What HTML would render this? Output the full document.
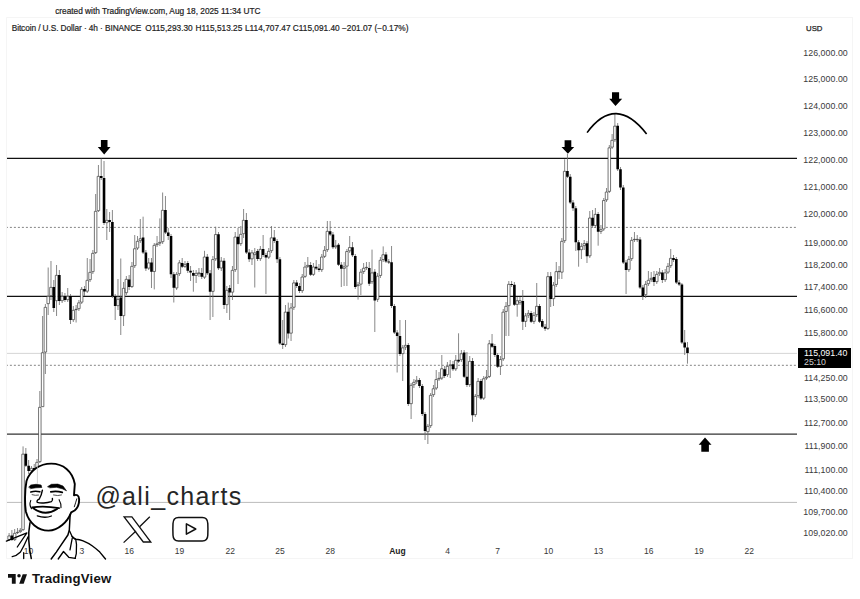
<!DOCTYPE html>
<html><head><meta charset="utf-8">
<style>
html,body{margin:0;padding:0;background:#fff;}
body{width:860px;height:599px;overflow:hidden;position:relative;font-family:"Liberation Sans",Arial,sans-serif;}
.abs{position:absolute;white-space:nowrap;}
#cw{left:0;width:315.7px;text-align:center;top:5.9px;font-size:8.31px;color:#222;-webkit-text-stroke:0.2px #222;}
.lg{position:absolute;top:23.4px;font-size:8.3px;color:#1e1e1e;-webkit-text-stroke:0.2px #1e1e1e;white-space:nowrap;}
#usd{left:806px;top:23.6px;font-size:7.8px;color:#222;-webkit-text-stroke:0.25px #222;}
.pl{position:absolute;left:790px;width:57.8px;text-align:right;font-size:8.8px;color:#3a3a3a;white-space:nowrap;letter-spacing:0.05px;}
.tl{position:absolute;top:546.2px;width:40px;text-align:center;font-size:8.5px;color:#383838;}
.tl.b{font-weight:bold;color:#222;}
#tag{position:absolute;left:798px;top:348.3px;width:53px;height:19.7px;background:#000;}
#tag div{position:absolute;left:6px;font-size:8.8px;color:#fff;white-space:nowrap;}
#ali{left:95.4px;top:482px;font-size:25px;color:#262626;letter-spacing:1.35px;}
#tvt{left:32px;top:570.5px;font-size:13.2px;font-weight:bold;color:#131313;letter-spacing:0.17px;}
svg{position:absolute;left:0;top:0;}
</style></head>
<body>
<div class="abs" id="cw">created with TradingView.com, Aug 18, 2025 11:34 UTC</div>

<div class="tl" style="left:8.6px">10</div>
<div class="tl" style="left:59.5px">13</div>
<div class="tl" style="left:109.3px">16</div>
<div class="tl" style="left:159.5px">19</div>
<div class="tl" style="left:210.2px">22</div>
<div class="tl" style="left:260.0px">25</div>
<div class="tl" style="left:310.2px">28</div>
<div class="tl b" style="left:377.4px">Aug</div>
<div class="tl" style="left:427.5px">4</div>
<div class="tl" style="left:477.5px">7</div>
<div class="tl" style="left:528.6px">10</div>
<div class="tl" style="left:578.6px">13</div>
<div class="tl" style="left:628.8px">16</div>
<div class="tl" style="left:679.0px">19</div>
<div class="tl" style="left:729.2px">22</div>
<svg width="860" height="599" viewBox="0 0 860 599">
<!-- faint pane borders -->
<path d="M6.5 17.5V558.5M6.5 17.5H853M852.5 17.5V558.5M6.5 558.5H853" stroke="#f5f5f5" stroke-width="1" fill="none"/>
<!-- horizontal lines -->
<path d="M7 158.4H797M7 296.3H797" stroke="#111" stroke-width="1.2"/>
<path d="M7 434.2H797" stroke="#333" stroke-width="1.3"/>
<path d="M7 227.4H797M7 365.3H797" stroke="#777" stroke-width="0.9" stroke-dasharray="2 2" stroke-dashoffset="1.1"/>
<path d="M7 353.4H797" stroke="#ccc" stroke-width="0.8"/>
<path d="M7 502.4H797" stroke="#bbb" stroke-width="1"/>
<path d="M9.1 533V541M11.89 530V541M14.68 529V541M17.48 528V534M20.27 528V533M23.06 446.4V531M25.85 448V467M28.64 460V474M31.43 466V473M34.23 464V474M37.02 459V473M39.81 391V463M42.6 316V407M45.39 304V374M48.18 267.5V315M50.98 261V300M53.77 280V312M56.56 265V316M59.35 270V305M62.14 292V303M64.93 293V302M67.73 288V302M70.52 294V324M73.31 306V322M76.1 305V322.5M78.89 300V311M81.68 287V304M84.48 286V296M87.27 258V293M90.06 259V282M92.85 250V274M95.64 194V254M98.43 165V212M101.23 158.5V180M104.02 161V225M106.81 209V240M109.6 212V232M112.39 210V298M115.18 294V320M117.98 279V310M120.77 258.5V335M123.56 282V326M126.35 276V295M129.14 275V290M131.93 262V288M134.73 235V268M137.52 236V250M140.31 219V243M143.1 216.7V254M145.89 250V271M148.69 258V270M151.48 258V288M154.27 243V289.4M157.06 236V247M159.85 218.4V246M162.64 192.5V244M165.44 196V234M168.23 228V240M171.02 234V278M173.81 272V302.5M176.6 272V290M179.39 260V276M182.19 258V268M184.98 261V268M187.77 261V273M190.56 266V281M193.35 270V291.7M196.14 270V283M198.94 268V277M201.73 268V279M204.52 250.8V279M207.31 254V275M210.1 270V320M212.89 256V317M215.69 226.7V261M218.48 232V270M221.27 257V271M224.06 258V309M226.85 286V313M229.64 285V320M232.44 266V300M235.23 232V272M238.02 228V284M240.81 226V246M243.6 209V238M246.39 213V254M249.19 249V262M251.98 250V265M254.77 248V287.5M257.56 249V261M260.35 246V261M263.14 235V257M265.94 253V294M268.73 248V259M271.52 226V253M274.31 230V243M277.1 239V263M279.89 257V345M282.69 320V349M285.48 305V347M288.27 302.6V338.5M291.06 303V341M293.85 280V310M296.65 280V288M299.44 283V293M302.23 274V293M305.02 262V278M307.81 257V268M310.6 262V276M313.4 263V276M316.19 260V270M318.98 264V272M321.77 254V272M324.56 246V258M327.35 221V252M330.15 221V236M332.94 232V249M335.73 240V249M338.52 243V266M341.31 262V287M344.1 262V286M346.9 249V286M349.69 236V253M352.48 242V257M355.27 254V289M358.06 282V299.6M360.85 269V295M363.65 263V274M366.44 262V270M369.23 262V286M372.02 249.6V284M374.81 269V332M377.6 273V302M380.4 257V278M383.19 246.4V262M385.98 252V263M388.77 259V264M391.56 246V308M394.35 304V334M397.15 330V372.5M399.94 320V356M402.73 345V381M405.52 320V350M408.31 343V406M411.1 383V419M413.9 379V388M416.69 376V384M419.48 378V388M422.27 384V416M425.06 412V440M427.86 424V444M430.65 393V428M433.44 385V397M436.23 370V390M439.02 372V381M441.81 355V380M444.61 366V378M447.4 362V377M450.19 360V378M452.98 361V371M455.77 355V371M458.56 333.3V363M461.36 350V362M464.15 350V378M466.94 352V387M469.73 356V387M472.52 358V421.8M475.31 394V417M478.11 378V398M480.9 379V400M483.69 376V400M486.48 370V380M489.27 340V378M492.06 334V348M494.86 344V357M497.65 353V368M500.44 356V375M503.23 309V361M506.02 302V336M508.81 281V336M511.61 281V287M514.4 282V306M517.19 297V316.7M519.98 297V305M522.77 290V330M525.56 313V327M528.36 310V318M531.15 311V323M533.94 312V324M536.73 283V317M539.52 304V323M542.31 319V328M545.11 324V331M547.9 272V330M550.69 272V307M553.48 282V306M556.27 262V287M559.06 266V279M561.86 238V279M564.65 159.3V243M567.44 154V178M570.23 174V204M573.02 200V211M575.82 206V251M578.61 240V266.7M581.4 243V259M584.19 240V250M586.98 241V263M589.77 211V258M592.57 210V228M595.36 208V228M598.15 212V245.7M600.94 225V234M603.73 198V231M606.52 188V202M609.32 145V193M612.11 134V149M614.9 113.3V142M617.69 123V171M620.48 167V190M623.27 185V264M626.07 260V294M628.86 256V272M631.65 237V261M634.44 232V242M637.23 235V242M640.02 237V289M642.82 285V300M645.61 281V298M648.4 271V286M651.19 272V282M653.98 271V286M656.77 271V284M659.57 268V276M662.36 270V283M665.15 269V282M667.94 263V274M670.73 249V268M673.52 255V262M676.32 257V284M679.11 280V286M681.9 283V344M684.69 330V355M687.48 342V363.7" stroke="#6a6a6a" stroke-width="0.8" fill="none"/>
<path d="M7.85 535.95h2.5v3.7h-2.5zM13.43 533.35h2.5v6.3h-2.5zM16.23 532.35h2.5v0.3h-2.5zM19.02 530.35h2.5v1.3h-2.5zM21.81 454.15h2.5v75.5h-2.5zM30.18 468.35h2.5v2.3h-2.5zM35.77 462.35h2.5v9.3h-2.5zM38.56 407.35h2.5v54.3h-2.5zM41.35 352.75h2.5v53.9h-2.5zM44.14 307.35h2.5v44.7h-2.5zM46.93 296.35h2.5v7.3h-2.5zM49.73 287.35h2.5v8.3h-2.5zM55.31 275.35h2.5v25.3h-2.5zM60.89 296.35h2.5v4.3h-2.5zM66.48 296.35h2.5v3.3h-2.5zM72.06 310.35h2.5v9.3h-2.5zM74.85 309.35h2.5v0.3h-2.5zM77.64 302.85h2.5v5.8h-2.5zM80.43 289.35h2.5v12.8h-2.5zM86.02 280.35h2.5v10.8h-2.5zM88.81 272.35h2.5v7.3h-2.5zM91.6 253.35h2.5v18.3h-2.5zM94.39 211.35h2.5v41.3h-2.5zM97.18 176.35h2.5v34.3h-2.5zM105.56 220.35h2.5v2.3h-2.5zM116.73 299.35h2.5v6.3h-2.5zM122.31 288.35h2.5v27.3h-2.5zM125.1 279.35h2.5v13.3h-2.5zM130.68 266.35h2.5v20.2h-2.5zM133.48 248.75h2.5v16.9h-2.5zM136.27 241.35h2.5v6.7h-2.5zM139.06 238.75h2.5v1.9h-2.5zM147.44 262.95h2.5v5.2h-2.5zM153.02 245.35h2.5v26.1h-2.5zM155.81 243.85h2.5v0.8h-2.5zM158.6 242.35h2.5v0.8h-2.5zM161.39 210.35h2.5v31.3h-2.5zM175.35 274.35h2.5v13.6h-2.5zM178.14 262.85h2.5v10.8h-2.5zM183.73 264.35h2.5v2h-2.5zM194.89 273.35h2.5v2.1h-2.5zM197.69 272.85h2.5v0.8h-2.5zM203.27 257.05h2.5v20.1h-2.5zM211.64 259.55h2.5v31.8h-2.5zM214.44 234.55h2.5v24.3h-2.5zM220.02 261.15h2.5v6.8h-2.5zM225.6 290.35h2.5v14.3h-2.5zM231.19 270.35h2.5v21.8h-2.5zM233.98 237.05h2.5v32.6h-2.5zM239.56 234.35h2.5v9.3h-2.5zM242.35 220.35h2.5v13.3h-2.5zM250.73 252.85h2.5v6h-2.5zM253.52 252.85h2.5v1.8h-2.5zM259.1 249.35h2.5v9.3h-2.5zM267.48 251.35h2.5v5.8h-2.5zM270.27 237.85h2.5v12.8h-2.5zM284.23 312.15h2.5v32.5h-2.5zM289.81 307.95h2.5v25.2h-2.5zM292.6 282.95h2.5v24.3h-2.5zM300.98 277.05h2.5v13.6h-2.5zM303.77 267.05h2.5v9.3h-2.5zM306.56 265.35h2.5v1h-2.5zM312.15 267.05h2.5v7.3h-2.5zM320.52 257.05h2.5v12.6h-2.5zM323.31 250.35h2.5v6h-2.5zM326.1 231.35h2.5v18.3h-2.5zM334.48 245.85h2.5v1h-2.5zM342.85 266.85h2.5v1.5h-2.5zM345.65 251.55h2.5v14.6h-2.5zM348.44 247.55h2.5v3.3h-2.5zM356.81 284.85h2.5v0.8h-2.5zM359.6 272.15h2.5v12h-2.5zM362.4 268.25h2.5v3.2h-2.5zM365.19 267.35h2.5v0.3h-2.5zM370.77 272.95h2.5v8.7h-2.5zM376.35 276.15h2.5v23.1h-2.5zM379.15 260.25h2.5v15.2h-2.5zM381.94 254.75h2.5v4.8h-2.5zM401.48 347.85h2.5v5.8h-2.5zM404.27 345.35h2.5v1.8h-2.5zM409.85 385.35h2.5v18.3h-2.5zM412.65 382.35h2.5v2.3h-2.5zM415.44 380.35h2.5v1.3h-2.5zM426.61 426.35h2.5v5.3h-2.5zM429.4 395.35h2.5v30.3h-2.5zM432.19 388.75h2.5v5.9h-2.5zM434.98 379.55h2.5v8.5h-2.5zM437.77 378.35h2.5v0.6h-2.5zM440.56 368.75h2.5v9.3h-2.5zM446.15 366.35h2.5v8.3h-2.5zM448.94 364.85h2.5v0.8h-2.5zM454.52 360.35h2.5v8.5h-2.5zM460.11 353.75h2.5v5.9h-2.5zM468.48 361.35h2.5v23.3h-2.5zM474.06 396.35h2.5v18.3h-2.5zM476.86 381.35h2.5v14.3h-2.5zM482.44 378.75h2.5v19.4h-2.5zM485.23 377.15h2.5v0.9h-2.5zM488.02 343.75h2.5v32.7h-2.5zM499.19 359.55h2.5v6.8h-2.5zM501.98 312.15h2.5v46.7h-2.5zM504.77 306.35h2.5v5.1h-2.5zM507.56 284.35h2.5v21.3h-2.5zM515.94 300.75h2.5v3.6h-2.5zM518.73 300.75h2.5v1.9h-2.5zM524.31 315.85h2.5v5.5h-2.5zM527.11 313.35h2.5v1.8h-2.5zM532.69 315.35h2.5v6h-2.5zM535.48 306.35h2.5v8.3h-2.5zM546.65 276.65h2.5v51.8h-2.5zM552.23 285.15h2.5v13.5h-2.5zM555.02 271.65h2.5v12.8h-2.5zM557.81 271.35h2.5v0.3h-2.5zM560.61 241.35h2.5v30.8h-2.5zM563.4 171.35h2.5v69.3h-2.5zM580.15 246.35h2.5v3.3h-2.5zM582.94 243.65h2.5v2h-2.5zM588.52 218.05h2.5v37.8h-2.5zM594.11 214.35h2.5v11.1h-2.5zM599.69 229.65h2.5v1.7h-2.5zM602.48 200.55h2.5v28.4h-2.5zM605.27 192.05h2.5v7.8h-2.5zM608.07 147.85h2.5v43.5h-2.5zM610.86 140.35h2.5v6.8h-2.5zM613.65 126.15h2.5v13.5h-2.5zM627.61 259.35h2.5v10.3h-2.5zM630.4 240.35h2.5v18.3h-2.5zM633.19 239.35h2.5v0.3h-2.5zM635.98 239.35h2.5v0.3h-2.5zM644.36 284.35h2.5v10.3h-2.5zM647.15 280.35h2.5v3.3h-2.5zM649.94 278.35h2.5v1.3h-2.5zM655.52 274.35h2.5v7.3h-2.5zM658.32 272.35h2.5v1.3h-2.5zM663.9 272.85h2.5v6.8h-2.5zM666.69 266.35h2.5v5.8h-2.5zM669.48 258.35h2.5v7.3h-2.5z" stroke="#3a3a3a" stroke-width="0.7" fill="#fff"/>
<path d="M10.59 535.6h2.6v4.4h-2.6zM24.55 453.8h2.6v11.9h-2.6zM27.34 465.7h2.6v5.3h-2.6zM32.93 468h2.6v4h-2.6zM52.47 287h2.6v21h-2.6zM58.05 275h2.6v26h-2.6zM63.63 296h2.6v4h-2.6zM69.22 296h2.6v24h-2.6zM83.18 289h2.6v2.5h-2.6zM99.93 176h2.6v2h-2.6zM102.72 178h2.6v45h-2.6zM108.3 220h2.6v2h-2.6zM111.09 222h2.6v74h-2.6zM113.88 296h2.6v10h-2.6zM119.47 297.5h2.6v18.5h-2.6zM127.84 279.4h2.6v7.5h-2.6zM141.8 237.6h2.6v15h-2.6zM144.59 252.6h2.6v15.9h-2.6zM150.18 262.6h2.6v9.2h-2.6zM164.14 210h2.6v22.6h-2.6zM166.93 232.6h2.6v3.4h-2.6zM169.72 236h2.6v38.3h-2.6zM172.51 274.3h2.6v13.4h-2.6zM180.89 263h2.6v3.7h-2.6zM186.47 263h2.6v7.8h-2.6zM189.26 270.8h2.6v1.7h-2.6zM192.05 273h2.6v2.8h-2.6zM200.43 273h2.6v3.7h-2.6zM206.01 256.7h2.6v16.6h-2.6zM208.8 273.3h2.6v18.4h-2.6zM217.18 234.2h2.6v34.1h-2.6zM222.76 260.8h2.6v44.2h-2.6zM228.34 288h2.6v4.5h-2.6zM236.72 236.7h2.6v7.5h-2.6zM245.09 220h2.6v32.5h-2.6zM247.89 252.5h2.6v6.7h-2.6zM256.26 251h2.6v8h-2.6zM261.84 249h2.6v6h-2.6zM264.64 255h2.6v2.5h-2.6zM273.01 237.5h2.6v3.5h-2.6zM275.8 241h2.6v18.2h-2.6zM278.59 259.2h2.6v84.4h-2.6zM281.39 343.6h2.6v1.4h-2.6zM286.97 311.8h2.6v21.7h-2.6zM295.35 282.6h2.6v3.4h-2.6zM298.14 286h2.6v5h-2.6zM309.3 265h2.6v9.7h-2.6zM314.89 266.7h2.6v1.7h-2.6zM317.68 268.4h2.6v1.6h-2.6zM328.85 231.3h2.6v3.2h-2.6zM331.64 234.5h2.6v12.7h-2.6zM337.22 244.8h2.6v19.9h-2.6zM340.01 264.7h2.6v4h-2.6zM351.18 247.2h2.6v8h-2.6zM353.97 256h2.6v31h-2.6zM367.93 267.9h2.6v15.8h-2.6zM373.51 271.8h2.6v28.6h-2.6zM384.68 254.4h2.6v7.1h-2.6zM387.47 261.5h2.6v1h-2.6zM390.26 262.3h2.6v43.7h-2.6zM393.05 306h2.6v26.5h-2.6zM395.85 332.5h2.6v3.5h-2.6zM398.64 336h2.6v18h-2.6zM407.01 345h2.6v59h-2.6zM418.18 380h2.6v6h-2.6zM420.97 386h2.6v28h-2.6zM423.76 414h2.6v17h-2.6zM443.31 369.2h2.6v6.7h-2.6zM451.68 364.2h2.6v5h-2.6zM457.26 359.7h2.6v1.7h-2.6zM462.85 352.5h2.6v24.3h-2.6zM465.64 376.8h2.6v8.3h-2.6zM471.22 361h2.6v54.2h-2.6zM479.6 381h2.6v17.5h-2.6zM490.76 343.4h2.6v3.3h-2.6zM493.56 346h2.6v9h-2.6zM496.35 355h2.6v11.7h-2.6zM510.31 284h2.6v1h-2.6zM513.1 284.8h2.6v19.9h-2.6zM521.47 301h2.6v20.7h-2.6zM529.85 313h2.6v8.7h-2.6zM538.22 306h2.6v15.7h-2.6zM541.01 321h2.6v5.7h-2.6zM543.81 326.7h2.6v2.1h-2.6zM549.39 276.3h2.6v22.7h-2.6zM566.14 171h2.6v5.8h-2.6zM568.93 176.8h2.6v25.7h-2.6zM571.72 202.5h2.6v5.8h-2.6zM574.52 208.3h2.6v33.9h-2.6zM577.31 242.2h2.6v8.1h-2.6zM585.68 243.3h2.6v12.9h-2.6zM591.27 217.7h2.6v8.1h-2.6zM596.85 214h2.6v17.7h-2.6zM616.39 125.8h2.6v43.4h-2.6zM619.18 169.2h2.6v18.3h-2.6zM621.97 187.5h2.6v75h-2.6zM624.77 262.5h2.6v7.5h-2.6zM638.72 239.5h2.6v48h-2.6zM641.52 287.5h2.6v8.5h-2.6zM652.68 277h2.6v5h-2.6zM661.06 272.5h2.6v7.5h-2.6zM672.22 258h2.6v2h-2.6zM675.02 259h2.6v23.5h-2.6zM677.81 282.5h2.6v2h-2.6zM680.6 284.5h2.6v58h-2.6zM683.39 342.5h2.6v5h-2.6zM686.18 347.5h2.6v5.5h-2.6z" fill="#000"/>
<!-- arrows -->
<path d="M100.9 140H107.5V147.1H110.5L104.2 154.4L97.8 147.1H100.9Z" fill="#000"/>
<path d="M564.6 140.3H571.3V146.9H574.2L567.9 153.8L561.5 146.9H564.6Z" fill="#000"/>
<path d="M612 92.3H619.1V98.8H622.2L615.5 106.1L609.2 98.8H612Z" fill="#000"/>
<path d="M705 437.6L711.5 444.8H708.9V451.7H701.3V444.8H698.7Z" fill="#000"/>
<path d="M587.1 132.6Q615.5 94 646.6 134" stroke="#000" stroke-width="1.6" fill="none"/>

<!-- face -->
<g stroke="#000" fill="none" stroke-linecap="round" stroke-linejoin="round">
<path d="M26.5 481C30 470 40 463.6 51.2 463.6C63 463.6 72.5 471 74.8 484L74 495.3C76.5 494.3 78.8 495 79.1 499C79.3 503.5 77.5 508 74.6 510.5L71.2 512.3C67.5 522 58.5 530.4 48.5 530.6C38 530.6 29 523 26 512C24.6 505 24.7 490 26.5 481Z" fill="#fff" stroke-width="1.9"/>
<path d="M37.4 466.2V483.5" stroke="#bbb" stroke-width="0.7"/>
<path d="M28.9 486.9L30.8 485L36 484.3L41.1 485L41.8 487.5L36 487.8L30.8 488.6Z" fill="#000" stroke-width="0.6"/>
<path d="M47.8 486.5L51.4 484.3L57.8 484.1L63 486L66.5 490.8L62.3 488.8L56.5 487.3L50.1 487.8Z" fill="#000" stroke-width="0.6"/>
<path d="M30.8 492Q35.3 490.6 39.8 491.8M50.8 491.8Q56.5 490.6 62.3 492.4" stroke-width="1.7"/>
<path d="M32.1 494.7Q35.3 495.8 38.5 495.1M53.5 495Q58 496.2 61.5 495" stroke-width="1" stroke="#555"/>
<path d="M42.4 490.1Q41.5 495.5 39.2 499.1Q36.2 500.5 37.3 502.3Q40 503.3 43.7 503Q48 502.8 51.4 501.7Q53 500.5 52.4 498.5" stroke-width="1.4"/>
<path d="M30.8 500.4Q28.9 505 31.5 508.7M59.1 499.7Q61.5 504 61 507.8" stroke-width="1.1"/>
<path d="M32.1 507.4Q44 505.4 59.1 508.1" stroke-width="1.8"/>
<path d="M33.4 508.3Q45 517 57 509" stroke-width="2"/>
<path d="M37.3 515.8Q45 518.6 51.4 516" stroke-width="1.3"/>
<path d="M76.8 498.8Q75.6 503 74.3 506.8" stroke-width="0.9"/>
<path d="M30 522.7Q28.3 532 28.8 540.6Q29.3 550 31.3 558.5" stroke-width="1.5"/>
<path d="M70.1 515L69.3 530.3Q68.5 533 67.9 535L60 546.6L56.3 552.1L51.2 559" stroke-width="1.5"/>
<path d="M72.1 536.4L75.8 539.7L76.5 544.3L76.3 553.6L75.1 558L70 558L70 549.9L72.3 537.8Z" fill="#fff" stroke="none"/>
<rect x="74.5" y="546.5" width="4.5" height="9.5" fill="#fff" stroke="none"/>
<path d="M69.4 530.5L72.1 536.4L75.8 539.7L76.5 544.3L76.3 553.6L75.1 558.3M72.3 537.8L70 549.9" stroke-width="1.3"/>
<path d="M58.2 559L63.5 551.5L68.8 557.3L75.3 558.3" stroke-width="1.3"/>
<path d="M72.1 536.4Q74 538.8 76.1 539.3Q79.5 539.6 83.1 540.8Q88 542.8 92.1 545.7Q96.5 548.8 99.8 552.1L105.5 559" stroke-width="1.4"/>
<path d="M6.4 541.2L26.9 532.9L17.3 547M28.1 536.7Q24 546 20.5 552Q16.5 556 12.2 556.6M23.7 552.7V558.5" stroke-width="1.3"/>
</g>

<!-- X logo -->
<g stroke="#111" stroke-width="1.3" fill="none" stroke-linejoin="miter">
<path d="M124.1 516.8H131.9L150.8 542H143.3Z"/>
<path d="M149.8 516.8L139.6 526.8M136 531L123.6 542.6"/>
</g>
<!-- YouTube -->
<g stroke="#111" stroke-width="1.5" fill="none" stroke-linejoin="round">
<path d="M178.5 517.6H202.3Q207.6 517.6 207.8 523.5Q208.1 529.3 207.8 535.2Q207.6 541 202.3 541H178.5Q173.2 541 173 535.2Q172.7 529.3 173 523.5Q173.2 517.6 178.5 517.6Z"/>
<path d="M186.4 523.8V534.2L195.8 529Z"/>
</g>
<!-- TV logo -->
<path d="M8 574H15.7V583.8H11.85V577.7H8Z" fill="#111"/>
<circle cx="19" cy="575.8" r="1.75" fill="#111"/>
<path d="M22.7 574.2H27L23.7 583.8H19.2Z" fill="#111"/>
</svg>

<div class="lg" style="left:11.7px;letter-spacing:-0.09px">Bitcoin / U.S. Dollar · 4h · BINANCE</div>
<div class="lg" style="left:145.3px">O115,293.30</div>
<div class="lg" style="left:195.4px">H115,513.25</div>
<div class="lg" style="left:245px">L114,707.47</div>
<div class="lg" style="left:292.8px">C115,091.40</div>
<div class="lg" style="left:342px">−201.07 (−0.17%)</div>
<div class="abs" id="usd">USD</div>
<div class="pl" style="top:48.1px">126,000.00</div>
<div class="pl" style="top:73.6px">125,000.00</div>
<div class="pl" style="top:100.6px">124,000.00</div>
<div class="pl" style="top:127.8px">123,000.00</div>
<div class="pl" style="top:154.6px">122,000.00</div>
<div class="pl" style="top:182.0px">121,000.00</div>
<div class="pl" style="top:209.0px">120,000.00</div>
<div class="pl" style="top:237.5px">119,000.00</div>
<div class="pl" style="top:259.5px">118,200.00</div>
<div class="pl" style="top:282.3px">117,400.00</div>
<div class="pl" style="top:305.0px">116,600.00</div>
<div class="pl" style="top:328.1px">115,800.00</div>
<div class="pl" style="top:372.5px">114,250.00</div>
<div class="pl" style="top:394.1px">113,500.00</div>
<div class="pl" style="top:417.8px">112,700.00</div>
<div class="pl" style="top:441.0px">111,900.00</div>
<div class="pl" style="top:465.1px">111,100.00</div>
<div class="pl" style="top:486.2px">110,400.00</div>
<div class="pl" style="top:507.2px">109,700.00</div>
<div class="pl" style="top:528.0px">109,020.00</div>
<div id="tag"><div style="top:0.2px">115,091.40</div><div style="top:9.2px;color:#d0d0d0">25:10</div></div>
<div class="abs" id="ali">@ali_charts</div>
<div class="abs" id="tvt">TradingView</div>
</body></html>
